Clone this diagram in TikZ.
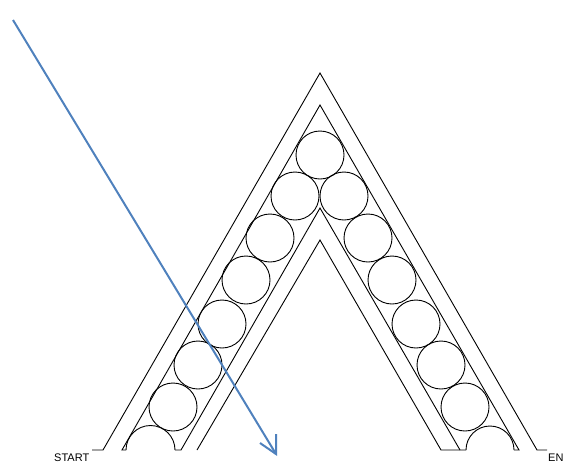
\documentclass[tikz,border=0pt]{standalone}
\usepackage{fontspec}
\setmainfont{Liberation Sans}
\begin{document}
\begin{tikzpicture}[x=1pt,y=-1pt,
  wall/.style={draw=black,line width=0.9pt,line join=miter},
  ball/.style={circle,draw=black,line width=0.9pt,minimum size=48pt,inner sep=0pt,outer sep=0pt},
  lbl/.style={font=\fontsize{11}{11}\selectfont,inner sep=0pt,anchor=base west,text=black},
  ray/.style={draw={rgb,255:red,79;green,129;blue,189},line width=2pt}]
\useasboundingbox (0,0) rectangle (564,464);
% channel walls
\draw[wall] (92,450) -- (103,450) -- (320,73) -- (537,450) -- (547,450);
\draw[wall] (514,450) -- (519,450) -- (320,105) -- (122,450) -- (126,450);
\draw[wall] (175,450) -- (181,450) -- (320,208) -- (460,450);
\draw[wall] (197,450) -- (320,240) -- (441,450) -- (466,450);
% half circles at the ends
\draw[wall] (126,450) arc[start angle=180,end angle=360,radius=24.5];
\draw[wall] (466,450) arc[start angle=180,end angle=360,radius=24];
% balls
\node[ball] (b1) at (173,407) {};
\node[ball] (b2) at (198,365) {};
\node[ball] (b3) at (222,324) {};
\node[ball] (b4) at (246,280) {};
\node[ball] (b5) at (270,238) {};
\node[ball] (b6) at (295,196) {};
\node[ball] (b7) at (320,155) {};
\node[ball] (b8) at (344,196) {};
\node[ball] (b9) at (368,238) {};
\node[ball] (b10) at (392,280) {};
\node[ball] (b11) at (416,324) {};
\node[ball] (b12) at (441,365) {};
\node[ball] (b13) at (465,407) {};
% labels
\node[lbl] (start) at (54,461) {START};
\node[lbl] (end) at (548,461) {EN};
% arrow
\coordinate (rayA) at (13,20);
\coordinate (rayB) at (276,454);
\coordinate (barbA) at (276,434);
\coordinate (barbB) at (260,443);
\draw[ray] (rayA) -- (rayB);
\draw[ray] (barbA) -- (rayB) -- (barbB);
\end{tikzpicture}
\end{document}
